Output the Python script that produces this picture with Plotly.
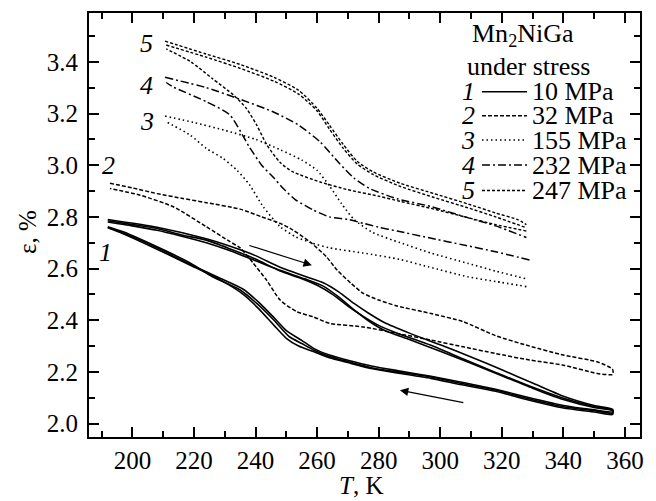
import plotly.graph_objects as go

FONT = "Liberation Serif, Times New Roman, Times, serif"

# ---------------- data ----------------
# Curve 1: 10 MPa, three thermal cycles (heating branch, then cooling branch)
T1a_heat = [192, 200, 208, 216, 224, 232, 240, 248, 254, 260, 265, 270, 275, 280, 286, 297, 307.5, 318, 329, 340, 350, 356]
E1a_heat = [2.785, 2.77, 2.755, 2.73, 2.71, 2.675, 2.637, 2.59, 2.565, 2.535, 2.50, 2.455, 2.415, 2.38, 2.35, 2.303, 2.25, 2.198, 2.145, 2.098, 2.066, 2.052]
T1a_cool = [356, 350, 340, 329, 318, 307, 297, 286, 278, 270, 264, 259, 255, 251, 246, 240.4, 235, 226, 219, 208, 197, 192]
E1a_cool = [2.04, 2.05, 2.065, 2.095, 2.13, 2.155, 2.18, 2.20, 2.215, 2.24, 2.26, 2.284, 2.31, 2.336, 2.40, 2.465, 2.517, 2.568, 2.62, 2.684, 2.742, 2.762]

T1b_heat = [192, 200, 208, 216, 224, 232, 240, 248, 256, 262, 267, 272, 277, 282, 290, 300, 310, 320, 330, 340, 350, 356]
E1b_heat = [2.78, 2.765, 2.748, 2.725, 2.70, 2.668, 2.63, 2.593, 2.56, 2.532, 2.49, 2.44, 2.395, 2.36, 2.325, 2.28, 2.233, 2.185, 2.137, 2.093, 2.062, 2.05]
T1b_cool = [356, 350, 340, 329, 318, 307, 297, 286, 278, 270, 264, 259, 255, 250, 246, 241, 236, 228, 219, 208, 197, 192]
E1b_cool = [2.045, 2.053, 2.07, 2.10, 2.133, 2.16, 2.183, 2.205, 2.222, 2.245, 2.265, 2.29, 2.322, 2.36, 2.41, 2.47, 2.52, 2.565, 2.615, 2.68, 2.738, 2.76]

T1c_heat = [192, 208, 224, 232, 240, 248, 256, 262, 267, 272, 277, 282, 290, 300, 310, 320, 330, 340, 350, 356]
E1c_heat = [2.79, 2.76, 2.715, 2.685, 2.65, 2.605, 2.57, 2.545, 2.51, 2.465, 2.425, 2.39, 2.35, 2.305, 2.258, 2.208, 2.157, 2.106, 2.07, 2.055]
T1c_cool = [356, 350, 340, 329, 318, 307, 297, 286, 278, 270, 264, 259, 254, 250, 246, 241, 236, 228, 219, 208, 197, 192]
E1c_cool = [2.035, 2.045, 2.06, 2.09, 2.125, 2.15, 2.175, 2.196, 2.212, 2.236, 2.255, 2.278, 2.30, 2.33, 2.38, 2.445, 2.50, 2.56, 2.612, 2.675, 2.735, 2.758]

# Curve 2: 32 MPa
T2_heat = [192.7, 200, 208, 216, 224, 235, 242, 248, 252, 258, 263, 266.5, 271, 275, 280, 286, 297, 307.5, 318, 329, 340, 351, 356]
E2_heat = [2.93, 2.912, 2.89, 2.872, 2.855, 2.83, 2.80, 2.775, 2.75, 2.70, 2.646, 2.594, 2.543, 2.504, 2.478, 2.455, 2.426, 2.394, 2.34, 2.30, 2.265, 2.239, 2.21]
T2_cool = [356, 351, 340, 329, 318, 307.5, 297, 286, 275, 264, 258.8, 253.4, 248, 243.6, 239.3, 235, 231.7, 224, 213.3, 202.5, 192.7]
E2_cool = [2.19, 2.194, 2.226, 2.246, 2.271, 2.297, 2.323, 2.349, 2.374, 2.388, 2.413, 2.433, 2.478, 2.555, 2.62, 2.68, 2.704, 2.762, 2.839, 2.884, 2.91]

# Curve 3: 155 MPa
T3_heat = [210.6, 220, 230, 240, 248, 255, 260, 264, 268, 272, 278, 287, 297, 309, 318, 328]
E3_heat = [3.19, 3.165, 3.135, 3.10, 3.06, 3.02, 2.98, 2.92, 2.85, 2.79, 2.74, 2.70, 2.66, 2.62, 2.59, 2.56]
T3_cool = [328, 318, 309, 296, 287, 275, 264, 258, 253, 248, 242.5, 238, 234, 229.5, 224, 218.7, 211]
E3_cool = [2.53, 2.55, 2.568, 2.607, 2.635, 2.66, 2.68, 2.70, 2.723, 2.762, 2.839, 2.925, 2.98, 3.026, 3.065, 3.117, 3.168]

# Curve 4: 232 MPa
T4_heat = [210.6, 224, 235, 246, 254, 261, 267, 272, 277, 286, 297, 308, 318, 328]
E4_heat = [3.34, 3.30, 3.255, 3.205, 3.155, 3.09, 3.01, 2.95, 2.91, 2.87, 2.84, 2.80, 2.765, 2.72]
T4_cool = [329, 318, 308, 296, 286, 280, 275, 270, 264, 258.8, 253, 249, 246, 242, 238, 231.7, 224, 213, 211]
E4_cool = [2.633, 2.665, 2.69, 2.72, 2.745, 2.76, 2.775, 2.79, 2.80, 2.826, 2.866, 2.91, 2.95, 3.00, 3.07, 3.194, 3.246, 3.304, 3.32]

# Curve 5: 247 MPa
T5_heat = [210.6, 224, 235, 246, 254, 260, 264, 268.5, 273, 278, 287, 298, 309, 318, 325, 328]
E5_heat = [3.48, 3.43, 3.39, 3.34, 3.29, 3.22, 3.155, 3.08, 3.015, 2.975, 2.93, 2.89, 2.85, 2.815, 2.79, 2.77]
T5_cool = [328, 318, 308, 298, 287, 280, 270, 261, 252, 248, 243.6, 240.4, 237, 233, 226, 219, 211]
E5_cool = [2.745, 2.77, 2.80, 2.83, 2.86, 2.88, 2.905, 2.935, 2.975, 3.01, 3.08, 3.155, 3.22, 3.27, 3.335, 3.40, 3.45]
T5b_heat = [211, 224, 235, 246, 254, 260, 264, 268.5, 273, 278, 287, 298, 309, 318, 328]
E5b_heat = [3.465, 3.418, 3.375, 3.325, 3.275, 3.21, 3.14, 3.065, 3.005, 2.965, 2.918, 2.875, 2.835, 2.80, 2.758]

curve_numbers = ["1", "2", "3", "4", "5"]
stress_labels = ["10 MPa", "32 MPa", "155 MPa", "232 MPa", "247 MPa"]
# position of the italic curve numbers next to the curves (T, epsilon)
number_T = [191.4, 192.1, 204.9, 204.6, 204.6]
number_E = [2.664, 2.999, 3.168, 3.31, 3.472]
# arrows: (tail T, tail eps, head T, head eps)
arrow_heat = [237.5, 2.691, 258.3, 2.613]
arrow_cool = [308.0, 2.080, 286.9, 2.129]

x_range = [185.9, 364.9]
y_range = [1.948, 3.589]

# ---------------- styles ----------------
dashes = ["solid", "4px,2px", "1.5px,3px", "8px,3px,2px,3px", "3px,2px"]
widths = [1.6, 1.5, 1.6, 1.5, 1.4]

fig = go.Figure()

def add(T, E, k):
    fig.add_trace(go.Scatter(
        x=T, y=E, mode="lines",
        line=dict(color="black", width=widths[k], dash=dashes[k], shape="spline", smoothing=0.6),
        showlegend=False, hoverinfo="skip"))

add(T1a_heat + T1a_cool, E1a_heat + E1a_cool, 0)
add(T1b_heat + T1b_cool, E1b_heat + E1b_cool, 0)
add(T1c_heat + T1c_cool, E1c_heat + E1c_cool, 0)
add(T2_heat + T2_cool, E2_heat + E2_cool, 1)
add(T3_heat, E3_heat, 2)
add(T3_cool, E3_cool, 2)
add(T4_heat, E4_heat, 3)
add(T4_cool, E4_cool, 3)
add(T5_heat, E5_heat, 4)
add(T5_cool, E5_cool, 4)
add(T5b_heat, E5b_heat, 4)

# ---------------- layout geometry (pixels) ----------------
W, H = 656, 501
L, R, T, B = 89, 16, 13, 64
pw, ph = W - L - R, H - T - B

def px(xp):
    return (xp - L) / pw

def py(yp):
    return (H - B - yp) / ph

annotations = []
shapes = []
tfont = dict(family=FONT, size=25, color="black")
kfont = dict(family=FONT, size=26, color="black")

# curve numbers
for n, tx, ey in zip(curve_numbers, number_T, number_E):
    annotations.append(dict(x=tx, y=ey, xref="x", yref="y", text="<i>" + n + "</i>",
                            showarrow=False, font=dict(kfont), xanchor="center", yanchor="middle"))

# arrows
for a in (arrow_heat, arrow_cool):
    annotations.append(dict(x=a[2], y=a[3], ax=a[0], ay=a[1], xref="x", yref="y",
                            axref="x", ayref="y", text="", showarrow=True,
                            arrowhead=2, arrowsize=1.4, arrowwidth=1.2, arrowcolor="black"))

# key
annotations.append(dict(x=px(470), y=py(35), xref="paper", yref="paper", text="Mn<sub>2</sub>NiGa",
                        showarrow=False, font=dict(kfont), xanchor="left", yanchor="middle"))
annotations.append(dict(x=px(465), y=py(66), xref="paper", yref="paper", text="under stress",
                        showarrow=False, font=dict(kfont), xanchor="left", yanchor="middle"))
row_y = [91.7, 115.7, 140, 165, 190.5]
for k in range(5):
    yy = py(row_y[k])
    annotations.append(dict(x=px(468), y=yy, xref="paper", yref="paper", text="<i>" + curve_numbers[k] + "</i>",
                            showarrow=False, font=dict(kfont), xanchor="center", yanchor="middle"))
    annotations.append(dict(x=px(530), y=yy, xref="paper", yref="paper", text=stress_labels[k],
                            showarrow=False, font=dict(kfont), xanchor="left", yanchor="middle"))
    shapes.append(dict(type="line", xref="paper", yref="paper", x0=px(482), x1=px(527), y0=yy, y1=yy,
                       line=dict(color="black", width=widths[k], dash=dashes[k])))

# axis titles
annotations.append(dict(x=px(361), y=py(485), xref="paper", yref="paper", text="<i>T</i>, K",
                        showarrow=False, font=dict(tfont), xanchor="center", yanchor="middle"))
annotations.append(dict(x=px(27), y=py(232), xref="paper", yref="paper", text="ε, %", textangle=-90,
                        showarrow=False, font=dict(tfont), xanchor="center", yanchor="middle"))

def axis_common():
    return dict(showgrid=False, zeroline=False, showline=True, linecolor="black", linewidth=2,
                mirror="ticks", ticks="inside", ticklen=10, tickwidth=1.5, tickcolor="black",
                tickfont=dict(tfont), automargin=False)

fig.update_layout(
    width=W, height=H,
    margin=dict(l=L, r=R, t=T, b=B, autoexpand=False),
    font=dict(tfont),
    paper_bgcolor="white", plot_bgcolor="white",
    xaxis=dict(range=x_range, tick0=200, dtick=20, ticklabelstandoff=0,
               minor=dict(dtick=10, ticks="inside", ticklen=6, tickwidth=1.5, tickcolor="black"),
               **axis_common()),
    yaxis=dict(range=y_range, tick0=2.0, dtick=0.2, tickformat=".1f", ticklabelstandoff=4,
               minor=dict(dtick=0.1, ticks="inside", ticklen=6, tickwidth=1.5, tickcolor="black"),
               **axis_common()),
    annotations=annotations,
    shapes=shapes,
)

fig.write_html("out.html", config={"displayModeBar": False})

# the page body has a default 8px margin; remove it so the figure fills the window exactly
with open("out.html", encoding="utf-8") as f:
    html = f.read()
html = html.replace("<body>", '<body style="margin:0;padding:0;overflow:hidden">', 1)
with open("out.html", "w", encoding="utf-8") as f:
    f.write(html)
